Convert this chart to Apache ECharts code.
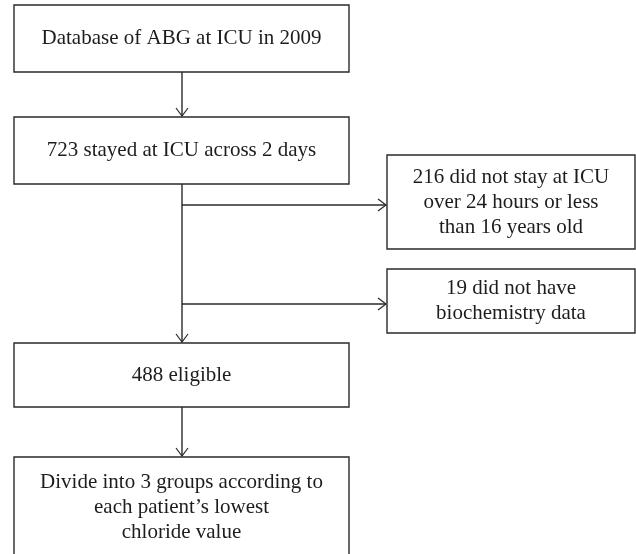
<!DOCTYPE html>
<html>
<head>
<meta charset="utf-8">
<script src="https://cdn.jsdelivr.net/npm/echarts@6/dist/echarts.min.js"></script>
<style>html,body{margin:0;padding:0;background:#fff}#c{width:636px;height:554px}</style>
</head>
<body>
<div id="c"></div>
<script>
// Flowchart nodes (coordinates in the chart's own 636 x 554 value space)
const boxLabels = [
  "Database of ABG at ICU in 2009",
  "723 stayed at ICU across 2 days",
  "488 eligible",
  "Divide into 3 groups according to\neach patient\u2019s lowest\nchloride value",
  "216 did not stay at ICU\nover 24 hours or less\nthan 16 years old",
  "19 did not have\nbiochemistry data"
];
const boxLeft   = [14, 14, 14, 14, 387, 387];
const boxTop    = [5, 117, 343, 457, 155, 269];
const boxRight  = [349, 349, 349, 349, 635, 635];
const boxBottom = [72, 184, 407, 558, 249, 333];

// Arrows
const arrowFromX = [182, 182, 182, 182, 182];
const arrowFromY = [72, 184, 205, 304, 407];
const arrowToX   = [182, 182, 386, 386, 182];
const arrowToY   = [116, 342, 205, 304, 456];

const boxData = boxLabels.map((t, i) => [boxLeft[i], boxTop[i], boxRight[i], boxBottom[i], t]);
const arrowData = arrowFromX.map((x, i) => [x, arrowFromY[i], arrowToX[i], arrowToY[i]]);

const LINE = '#2a2a2a';
const FONT = '"Liberation Serif", "DejaVu Serif", serif';

const chart = echarts.init(document.getElementById('c'), null, {renderer: 'canvas'});
chart.setOption({
  animation: false,
  grid: {left: 0, right: 0, top: 0, bottom: 0},
  xAxis: {type: 'value', min: 0, max: 636, show: false},
  yAxis: {type: 'value', min: 0, max: 554, inverse: true, show: false},
  series: [
    {
      type: 'custom',
      coordinateSystem: 'cartesian2d',
      clip: false,
      data: boxData,
      encode: {x: [0, 2], y: [1, 3]},
      renderItem: function (params, api) {
        const p1 = api.coord([api.value(0), api.value(1)]);
        const p2 = api.coord([api.value(2), api.value(3)]);
        const text = boxData[params.dataIndex][4];
        return {
          type: 'group',
          children: [
            {
              type: 'rect',
              shape: {x: p1[0], y: p1[1], width: p2[0] - p1[0], height: p2[1] - p1[1]},
              style: {fill: '#fff', stroke: LINE, lineWidth: 1.4}
            },
            {
              type: 'text',
              style: {
                text: text,
                x: (p1[0] + p2[0]) / 2,
                y: (p1[1] + p2[1]) / 2,
                align: 'center',
                verticalAlign: 'middle',
                fontFamily: FONT,
                fontSize: 21,
                lineHeight: 25,
                fill: '#1e1c1d'
              }
            }
          ]
        };
      }
    },
    {
      type: 'custom',
      coordinateSystem: 'cartesian2d',
      clip: false,
      data: arrowData,
      encode: {x: [0, 2], y: [1, 3]},
      renderItem: function (params, api) {
        const a = api.coord([api.value(0), api.value(1)]);
        const b = api.coord([api.value(2), api.value(3)]);
        const dx = b[0] - a[0], dy = b[1] - a[1];
        const len = Math.sqrt(dx * dx + dy * dy) || 1;
        const ux = dx / len, uy = dy / len;
        const hl = 8, hw = 6;
        const h1 = [b[0] - ux * hl - uy * hw, b[1] - uy * hl + ux * hw];
        const h2 = [b[0] - ux * hl + uy * hw, b[1] - uy * hl - ux * hw];
        return {
          type: 'group',
          children: [
            {type: 'line', shape: {x1: a[0], y1: a[1], x2: b[0], y2: b[1]}, style: {stroke: LINE, lineWidth: 1.4}},
            {type: 'polyline', shape: {points: [h1, b, h2]}, style: {stroke: LINE, lineWidth: 1.2, fill: null}}
          ]
        };
      }
    }
  ]
});
</script>
</body>
</html>
